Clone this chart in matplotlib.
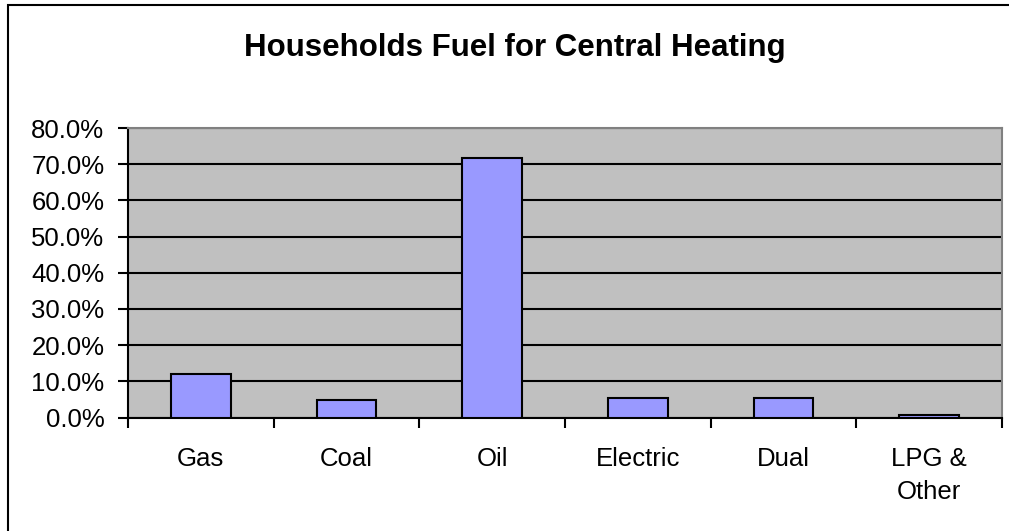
import matplotlib
matplotlib.use("Agg")
import matplotlib.pyplot as plt
from matplotlib.patches import Rectangle
from matplotlib.ticker import FuncFormatter, FixedLocator

categories = ["Gas", "Coal", "Oil", "Electric", "Dual", "LPG &\nOther"]
shares = [12.0, 4.8, 71.7, 5.4, 5.4, 0.6]  # percent of households

plt.rcParams["font.family"] = ["Liberation Sans", "DejaVu Sans"]

fig = plt.figure(figsize=(10.09, 5.31), dpi=100)
ax = fig.add_axes([128 / 1009, 1 - 417.5 / 531, (1002 - 128) / 1009, (417.5 - 128) / 531])

ax.set_facecolor("#C0C0C0")
x = range(len(categories))
ax.bar(x, shares, width=0.41, color="#9999FF", edgecolor="black", linewidth=1.5, zorder=3)

ax.set_xlim(-0.5, len(categories) - 0.5)
ax.set_ylim(0, 80)
ax.set_yticks(range(0, 81, 10))
ax.yaxis.set_major_formatter(FuncFormatter(lambda v, _: f"{v:.1f}%"))
ax.yaxis.grid(True, color="black", linewidth=1.5, zorder=1)
ax.set_axisbelow(True)

# category labels centred, ticks on the boundaries
ax.set_xticks(list(x))
ax.set_xticklabels(categories, fontsize=18.5, linespacing=1.5)
ax.tick_params(axis="x", which="major", length=0, pad=21)
ax.xaxis.set_minor_locator(FixedLocator([i - 0.5 for i in range(len(categories) + 1)]))
ax.tick_params(axis="x", which="minor", length=7, width=1.5, direction="out")
ax.tick_params(axis="y", labelsize=18.5, length=7, width=1.5, direction="out", pad=10)

for side in ("top", "right"):
    ax.spines[side].set_color("#808080")
    ax.spines[side].set_linewidth(1.5)
for side in ("left", "bottom"):
    ax.spines[side].set_color("black")
    ax.spines[side].set_linewidth(1.5)

fig.text(515 / 1009, 1 - 48 / 531, "Households Fuel for Central Heating",
         ha="center", va="center", fontsize=22.5, fontweight="bold")

# chart border
fig.patches.append(Rectangle((8 / 1009, -0.05), 1.1, 1 - 5 / 531 + 0.05,
                             transform=fig.transFigure, fill=False,
                             edgecolor="black", linewidth=1.5))

fig.savefig("out.png", dpi=100)
